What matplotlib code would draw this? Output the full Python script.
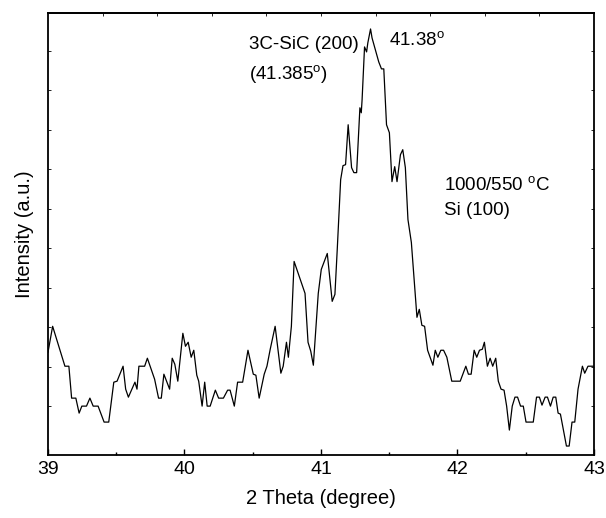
import numpy as np
import matplotlib
matplotlib.use("Agg")
import matplotlib.pyplot as plt

plt.rcParams['font.family'] = ['Liberation Sans', 'DejaVu Sans']
plt.rcParams['mathtext.fontset'] = 'custom'
plt.rcParams['mathtext.rm'] = 'Liberation Sans'

# XRD scan, 3C-SiC (200) region (intensity in arbitrary units)
two_theta = [
    39.000, 39.034, 39.124, 39.153, 39.173, 39.204, 39.228, 39.248, 39.282, 39.307,
    39.331, 39.367, 39.411, 39.445, 39.482, 39.506, 39.550, 39.569, 39.589, 39.637,
    39.652, 39.666, 39.708, 39.728, 39.781, 39.810, 39.830, 39.849, 39.891, 39.910,
    39.929, 39.951, 39.988, 40.007, 40.027, 40.049, 40.068, 40.090, 40.104, 40.129,
    40.148, 40.166, 40.188, 40.226, 40.250, 40.285, 40.316, 40.334, 40.365, 40.389,
    40.426, 40.465, 40.504, 40.523, 40.547, 40.584, 40.604, 40.628, 40.664, 40.706,
    40.723, 40.747, 40.761, 40.783, 40.803, 40.883, 40.905, 40.925, 40.944, 40.980,
    41.002, 41.046, 41.082, 41.102, 41.119, 41.144, 41.161, 41.180, 41.199, 41.224,
    41.241, 41.261, 41.285, 41.295, 41.301, 41.319, 41.334, 41.343, 41.363, 41.374,
    41.423, 41.443, 41.460, 41.480, 41.501, 41.520, 41.540, 41.557, 41.582, 41.599,
    41.618, 41.637, 41.662, 41.703, 41.720, 41.739, 41.759, 41.781, 41.820, 41.837,
    41.856, 41.878, 41.898, 41.922, 41.958, 42.020, 42.061, 42.080, 42.100, 42.122,
    42.141, 42.161, 42.182, 42.197, 42.219, 42.239, 42.258, 42.280, 42.299, 42.319,
    42.341, 42.360, 42.380, 42.401, 42.421, 42.440, 42.462, 42.482, 42.502, 42.555,
    42.579, 42.600, 42.619, 42.642, 42.659, 42.681, 42.701, 42.720, 42.737, 42.754,
    42.798, 42.818, 42.839, 42.859, 42.883, 42.915, 42.932, 42.956, 42.980, 43.000,
]
intensity = [
    103, 129, 89, 89, 57, 57, 42, 49, 49, 57,
    49, 49, 33, 33, 73, 74, 89, 66, 58, 73,
    66, 89, 89, 97, 76, 57, 57, 81, 66, 97,
    91, 74, 122, 109, 113, 98, 105, 80, 74, 49,
    73, 49, 49, 65, 57, 57, 65, 65, 49, 73,
    73, 105, 81, 80, 57, 81, 89, 106, 129, 82,
    89, 113, 98, 129, 194, 162, 113, 104, 90, 162,
    186, 202, 154, 161, 206, 276, 290, 291, 331, 288,
    283, 283, 348, 343, 356, 409, 404, 413, 427, 418,
    394, 387, 387, 331, 323, 274, 289, 274, 301, 306,
    288, 236, 213, 138, 146, 130, 129, 105, 90, 105,
    98, 105, 105, 98, 74, 74, 89, 81, 81, 105,
    98, 105, 106, 113, 89, 97, 89, 97, 74, 66,
    65, 49, 25, 49, 58, 58, 49, 49, 33, 33,
    58, 58, 50, 58, 58, 49, 58, 58, 42, 41,
    9, 9, 33, 33, 66, 89, 82, 89, 89, 89,
]

fig = plt.figure(figsize=(6.06, 5.18), dpi=100)
ax = fig.add_axes([0.0792, 0.1216, 0.9010, 0.8533])

ax.plot(two_theta, intensity, color='black', linewidth=0.9)

ax.set_xlim(39, 43)
ax.set_ylim(0, 443)

# bottom: major at integers, minor at halves; top: small ticks every 0.4
ax.set_xticks([39, 40, 41, 42, 43])
ax.set_xticks(np.arange(39.5, 43, 1.0), minor=True)
ax.tick_params(axis='x', which='major', direction='in', length=4, width=1,
               labelsize=14, pad=4, top=False)
ax.tick_params(axis='x', which='minor', direction='in', length=2.5, width=1, top=False)

top = ax.secondary_xaxis('top')
top.set_xticks(np.arange(39.4, 42.9, 0.4))
top.tick_params(direction='in', length=2, width=0.6, labeltop=False)
top.spines['top'].set_linewidth(1.3)

ax.set_yticks(np.arange(49, 443, 39.6))
ax.tick_params(axis='y', direction='in', length=2, width=0.6, labelleft=False,
               right=True)

for s in ax.spines.values():
    s.set_linewidth(1.3)

ax.set_xlabel('2 Theta (degree)', fontsize=14.5, labelpad=8)
ax.set_ylabel('Intensity (a.u.)', fontsize=14.5, labelpad=10)

ax.text(40.47, 411, '3C-SiC (200)', fontsize=13.5, ha='left', va='center')
ax.text(40.47, 381, r'(41.385$^{\rm o}$)', fontsize=13.5, ha='left', va='center')
ax.text(41.50, 415, r'41.38$^{\rm o}$', fontsize=13.5, ha='left', va='center')
ax.text(41.90, 270, r'1000/550 $^{\rm o}$C', fontsize=13.5, ha='left', va='center')
ax.text(41.90, 245, 'Si (100)', fontsize=13.5, ha='left', va='center')

fig.savefig('out.png', dpi=100)
